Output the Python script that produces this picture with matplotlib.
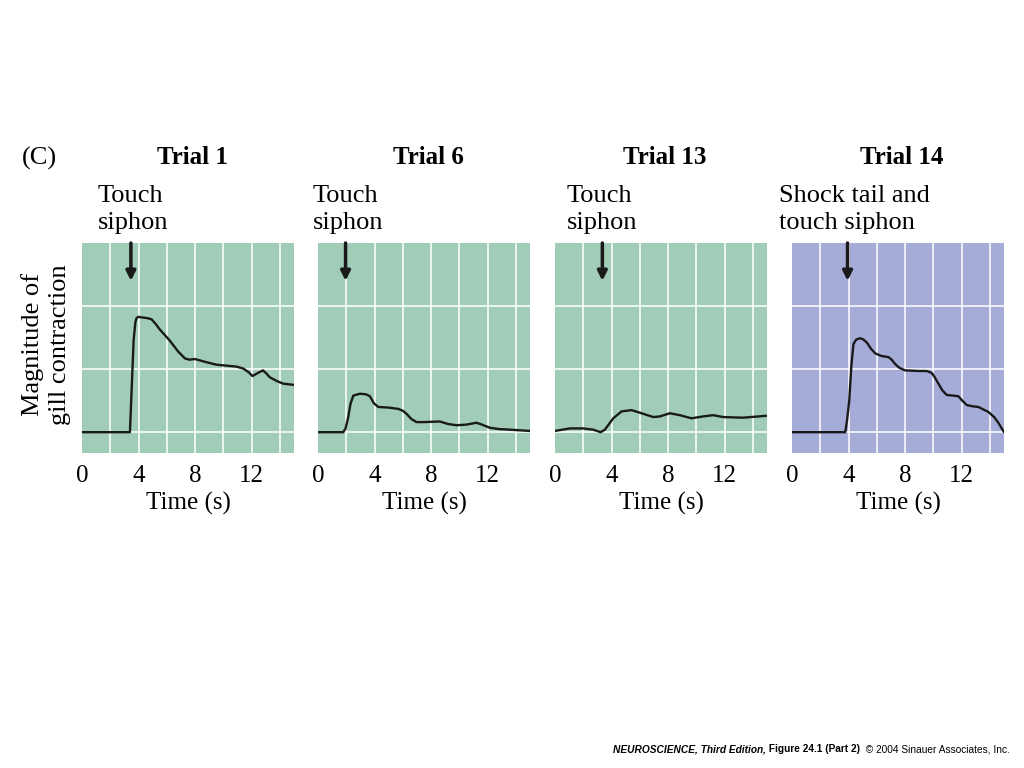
import matplotlib
matplotlib.use("Agg")
import matplotlib.pyplot as plt

# ---- data (time in s, magnitude in grid units) ----
trial_titles = ["Trial 1", "Trial 6", "Trial 13", "Trial 14"]
stim_labels = ["Touch\nsiphon", "Touch\nsiphon", "Touch\nsiphon", "Shock tail and\ntouch siphon"]
stim_times = [3.46, 1.95, 3.35, 3.93]

t1 = [0, 3.39, 3.5, 3.65, 3.78, 3.86, 4.0, 4.22, 4.6, 4.92, 5.2, 5.5, 6.22, 6.8, 7.28, 7.6, 7.99, 8.8, 9.52, 10.93, 11.4, 11.8, 12.06, 12.45, 12.81, 13.05, 13.29, 13.8, 14.23, 15]
y1 = [0, 0, 0.6, 1.45, 1.75, 1.81, 1.83, 1.82, 1.81, 1.79, 1.72, 1.63, 1.45, 1.28, 1.17, 1.15, 1.16, 1.11, 1.07, 1.04, 1.01, 0.95, 0.89, 0.94, 0.98, 0.93, 0.87, 0.81, 0.77, 0.75]

t2 = [0, 1.79, 1.95, 2.14, 2.3, 2.5, 2.97, 3.4, 3.67, 3.95, 4.26, 5.0, 5.67, 6.0, 6.27, 6.6, 6.97, 7.5, 8.62, 9.2, 9.8, 10.5, 11.21, 11.6, 12.16, 12.8, 13.57, 14.98]
y2 = [0, 0, 0.06, 0.24, 0.45, 0.58, 0.61, 0.60, 0.57, 0.46, 0.40, 0.39, 0.37, 0.34, 0.29, 0.21, 0.16, 0.16, 0.17, 0.13, 0.11, 0.12, 0.15, 0.12, 0.07, 0.05, 0.04, 0.02]

t3 = [0, 1.06, 2.0, 2.7, 3.23, 3.53, 4.12, 4.71, 5.42, 6.13, 6.95, 7.42, 8.13, 8.83, 9.66, 10.48, 11.19, 11.9, 13.3, 14.96]
y3 = [0.02, 0.06, 0.06, 0.04, 0.0, 0.04, 0.22, 0.33, 0.35, 0.30, 0.24, 0.25, 0.30, 0.27, 0.22, 0.25, 0.27, 0.24, 0.23, 0.26]

t4 = [0, 3.77, 3.9, 4.05, 4.2, 4.35, 4.55, 4.83, 5.05, 5.3, 5.6, 5.89, 6.3, 6.83, 7.05, 7.3, 7.6, 8.0, 9.0, 9.54, 9.89, 10.1, 10.36, 10.65, 10.95, 11.4, 11.77, 12.05, 12.37, 12.8, 13.19, 13.9, 14.3, 14.6, 15]
y4 = [0, 0, 0.2, 0.50, 1.05, 1.40, 1.47, 1.49, 1.47, 1.42, 1.32, 1.25, 1.21, 1.19, 1.15, 1.08, 1.02, 0.98, 0.97, 0.97, 0.94, 0.87, 0.77, 0.66, 0.59, 0.58, 0.57, 0.50, 0.43, 0.41, 0.40, 0.32, 0.24, 0.15, 0.0]

times = [t1, t2, t3, t4]
values = [y1, y2, y3, y4]
panel_colors = ["#a0ccb8", "#a0ccb8", "#a0ccb8", "#a6acd8"]
xticks = [0, 4, 8, 12]
xticklabels = ["0", "4", "8", "12"]

# ---- figure ----
W, H = 1024, 768
fig = plt.figure(figsize=(W / 100, H / 100), dpi=100)
fig.patch.set_facecolor("white")
serif = "Liberation Serif"

lefts = [82, 318, 555, 792]
top_px, bot_px, width_px = 243, 453, 212

for i in range(4):
    ax = fig.add_axes([lefts[i] / W, (H - bot_px) / H, width_px / W, (bot_px - top_px) / H])
    ax.set_facecolor(panel_colors[i])
    ax.set_xlim(0, 15)
    ax.set_ylim(-0.33, 3.0)
    for gx in range(2, 15, 2):
        ax.axvline(gx, color="white", lw=1.4, alpha=0.8, zorder=1)
    for gy in [0, 1, 2]:
        ax.axhline(gy, color="white", lw=1.4, alpha=0.8, zorder=1)
    ax.plot(times[i], values[i], color="#1a1a1a", lw=1.7, zorder=3,
            solid_joinstyle="round", solid_capstyle="round")
    for s in ax.spines.values():
        s.set_visible(False)
    ax.set_yticks([])
    ax.set_xticks(xticks)
    ax.set_xticklabels(xticklabels, fontfamily=serif, fontsize=18)
    ax.tick_params(axis="x", length=0, pad=9)
    ax.set_xlabel("Time (s)", fontfamily=serif, fontsize=18, labelpad=3)
    ax.annotate("", xy=(stim_times[i], 2.4), xytext=(stim_times[i], 3.0),
                arrowprops=dict(arrowstyle="-|>", color="#1a1a1a", lw=2.5, mutation_scale=14,
                                shrinkA=0, shrinkB=0),
                annotation_clip=False, zorder=4)
    cx = (lefts[i] + width_px / 2 + 4) / W
    fig.text(cx, 1 - 158 / H, trial_titles[i], ha="center", va="center",
             fontfamily=serif, fontsize=18, fontweight="bold")
    lx = [98, 313, 567, 779][i]
    fig.text(lx / W, 1 - 185 / H, stim_labels[i], ha="left", va="top",
             fontfamily=serif, fontsize=19, linespacing=1.32)

fig.text(22 / W, 1 - 158 / H, "(C)", ha="left", va="center", fontfamily=serif, fontsize=19)
fig.text(46 / W, 1 - 345 / H, "Magnitude of\ngill contraction", rotation=90,
         ha="center", va="center", fontfamily=serif, fontsize=19, linespacing=1.25)

# footer
sans = "Liberation Sans"
fs = 7.3
base_y = 1 - 752 / H
t_a = fig.text(613 / W, base_y, "NEUROSCIENCE, Third Edition,", ha="left", va="baseline",
               fontfamily=sans, fontsize=fs, fontweight="bold", fontstyle="italic")
a1 = fig.text(0, base_y, " Figure 24.1 (Part 2)", ha="left", va="baseline",
              fontfamily=sans, fontsize=fs, fontweight="bold")
a2 = fig.text(0, base_y, "  \u00a9 2004 Sinauer Associates, Inc.", ha="left", va="baseline",
              fontfamily=sans, fontsize=fs)

renderer = fig.canvas.get_renderer()
bb = t_a.get_window_extent(renderer)
a1.set_position((bb.x1 / W, base_y))
bb1 = a1.get_window_extent(renderer)
a2.set_position((bb1.x1 / W, base_y))

fig.savefig("out.png", dpi=100, facecolor="white")
